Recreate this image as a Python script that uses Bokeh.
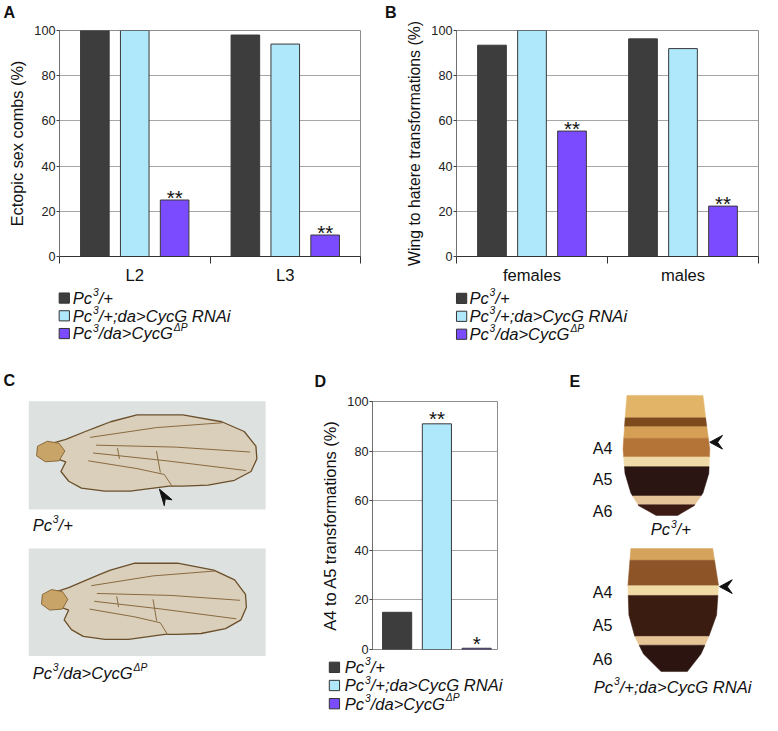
import numpy as np
from bokeh.plotting import figure
from bokeh.models import Range1d, FixedTicker
from bokeh.layouts import column, row
from bokeh.core.properties import value
from bokeh.embed import file_html
from bokeh.resources import INLINE

S = 0.976
FONT = "Liberation Sans"
STYLED_SHIFT = 0.3   # em; italic/bold text is drawn a little low, compensate

# ---------------- data ----------------
GENOTYPES = [
    [("Pc", "n"), ("3", "s"), ("/+", "n")],
    [("Pc", "n"), ("3", "s"), ("/+;da>CycG RNAi", "n")],
    [("Pc", "n"), ("3", "s"), ("/da>CycG", "n"), ("\u0394P", "s")],
]
COLORS = ["#3d3d3d", "#aee8fa", "#7b4cff"]

A_categories = ["L2", "L3"]
A_pc3 = [100, 98]
A_rnai = [100, 94]
A_dp = [25, 9.5]
A_stars = [["", ""], ["", ""], ["**", "**"]]

B_categories = ["females", "males"]
B_pc3 = [93.5, 96.3]
B_rnai = [100, 92]
B_dp = [55.5, 22.3]
B_stars = [["", ""], ["", ""], ["**", "**"]]

D_values = [15, 91, 0.5]
D_stars = ["", "**", "*"]

Y_TICKS = [0, 20, 40, 60, 80, 100]

C_labels = [[("Pc", "n"), ("3", "s"), ("/+", "n")],
            [("Pc", "n"), ("3", "s"), ("/da>CycG", "n"), ("\u0394P", "s")]]
E_labels = [[("Pc", "n"), ("3", "s"), ("/+", "n")],
            [("Pc", "n"), ("3", "s"), ("/+;da>CycG RNAi", "n")]]
SEGMENTS = ["A4", "A5", "A6"]

# approx Arial advance widths (em)
CW = {'P': .667, 'c': .5, '/': .278, '+': .584, ';': .278, 'd': .556, 'a': .556,
      '>': .584, 'C': .722, 'y': .5, 'G': .778, ' ': .278, 'R': .722, 'N': .722,
      'A': .667, 'i': .222, '3': .556, '\u0394': .668}


def sp(v):
    return int(round(v * S))


def fpx(v):
    return f"{v * S:.2f}px"


def canvas(w, h):
    p = figure(width=sp(w), height=sp(h), x_range=Range1d(0, w), y_range=Range1d(h, 0),
               min_border=0, toolbar_location=None, output_backend="svg", title=None,
               x_axis_type=None, y_axis_type=None, tools="")
    p.frame_align = False
    p.outline_line_color = None
    p.background_fill_color = "white"
    p.border_fill_color = "white"
    return p


def rich(p, x, y, parts, fs, align="left", color="#111111"):
    sup = 0.62
    rise = 0.38 * fs
    gap = 0.05 * fs
    y = y - STYLED_SHIFT * fs
    widths = []
    for s, k in parts:
        f = fs * sup if k == "s" else fs
        widths.append(sum(CW.get(ch, 0.556) for ch in s) * f + (gap if k == "s" else 0))
    total = sum(widths)
    x0 = x - total / 2 if align == "center" else x
    for (s, k), wd in zip(parts, widths):
        f = fs * sup if k == "s" else fs
        xx = x0 + (gap if k == "s" else 0)
        yy = y - rise if k == "s" else y
        p.text(x=[xx], y=[yy], text=[s], text_font=value(FONT), text_font_size=value(fpx(f)),
               text_font_style="italic", text_align="left", text_baseline="alphabetic",
               text_color=color)
        x0 += wd


def letter(p, x, y, t):
    fs = 16.5
    p.text(x=[x], y=[y - STYLED_SHIFT * fs], text=[t], text_font=value(FONT),
           text_font_size=value(fpx(fs)), text_font_style="bold", text_align="left",
           text_baseline="alphabetic", text_color="#111111")


def chart(w, h, left, right, top, bottom, ylabel, categories, series, stars,
          offsets, bar_w, xr, show_x=True, ylabel_fs=16.5, star_off=-3):
    p = figure(width=sp(w), height=sp(h), x_range=Range1d(*xr), y_range=Range1d(0, 100),
               min_border_left=sp(left), min_border_right=sp(right),
               min_border_top=sp(top), min_border_bottom=sp(bottom),
               toolbar_location=None, output_backend="svg", title=None, tools="",
               x_axis_type="linear" if show_x else None)
    p.frame_align = False
    p.background_fill_color = "white"
    p.border_fill_color = "white"
    p.outline_line_color = "#8c8c8c"
    p.outline_line_width = 1

    ya = p.yaxis[0]
    ya.ticker = FixedTicker(ticks=Y_TICKS)
    ya.axis_label = ylabel
    ya.axis_label_text_font = FONT
    ya.axis_label_text_font_size = fpx(ylabel_fs)
    ya.axis_label_text_font_style = "normal"
    ya.axis_label_text_color = "#111111"
    ya.axis_label_standoff = 5
    ya.major_label_text_font = FONT
    ya.major_label_text_font_size = fpx(13)
    ya.major_label_text_color = "#222222"
    ya.major_label_standoff = 1
    ya.major_tick_out = 3
    ya.major_tick_in = 0
    ya.minor_tick_line_color = None
    ya.axis_line_color = "#707070"
    ya.major_tick_line_color = "#404040"

    p.ygrid.ticker = FixedTicker(ticks=Y_TICKS)
    p.ygrid.grid_line_color = "#a6a6a6"
    p.ygrid.grid_line_width = 1
    if show_x:
        p.xgrid.visible = False
        n = len(categories)
        xa = p.xaxis[0]
        xa.ticker = FixedTicker(ticks=[i + 0.5 for i in range(n)],
                                minor_ticks=list(range(n + 1)))
        xa.major_label_overrides = {i + 0.5: c for i, c in enumerate(categories)}
        xa.major_label_text_font = FONT
        xa.major_label_text_font_size = fpx(17)
        xa.major_label_text_color = "#111111"
        xa.major_label_standoff = 2
        xa.major_tick_out = 0
        xa.major_tick_in = 0
        xa.minor_tick_out = 7
        xa.minor_tick_in = 0
        xa.minor_tick_line_color = "#333333"
        xa.axis_line_color = "#333333"

    n = len(categories)
    for j, vals in enumerate(series):
        xs = [i + 0.5 + offsets[j] for i in range(n)]
        p.vbar(x=xs, top=vals, width=bar_w, fill_color=COLORS[j], line_color="#3a3a3a",
               line_width=1)
        p.text(x=xs, y=vals, text=stars[j], text_font=value(FONT),
               text_font_size=value(fpx(21)), text_align="center",
               text_baseline="alphabetic", y_offset=star_off * S, text_color="#111111")
    return p


def legend(w, h, sq_x, txt_x, y_first, y_step):
    p = canvas(w, h)
    for i, (col, parts) in enumerate(zip(COLORS, GENOTYPES)):
        yc = y_first + i * y_step
        p.rect(x=[sq_x], y=[yc], width=10.5, height=10.5, fill_color=col,
               line_color="#333333", line_width=1)
        rich(p, txt_x, yc + 5.5, parts, 17)
    return p


OFFSETS = [-0.265, 0.0, 0.265]

# ---------------- top row ----------------
top_strip = canvas(778, 20)
letter(top_strip, 3, 16, "A")
letter(top_strip, 394, 16, "B")

figA = chart(390, 274, 60, 22, 10, 21, "Ectopic sex combs (%)", A_categories,
             [A_pc3, A_rnai, A_dp], A_stars, OFFSETS, 0.19, (0, 2), ylabel_fs=16.7)
figB = chart(388, 274, 77, 2, 10, 21, "Wing to hatere transformations (%)", B_categories,
             [B_pc3, B_rnai, B_dp], B_stars, OFFSETS, 0.19, (0, 2), ylabel_fs=16.2)
legA = legend(390, 66, 65.3, 74, 10.9, 18.3)
legB = legend(388, 66, 82, 90, 11.2, 18.5)

# ---------------- panel C (wing photos) ----------------
figC = canvas(318, 371)
letter(figC, 3, 34, "C")

WING = [(100, 77), (113, 72), (140, 65), (187, 65), (227, 72), (250, 82), (262, 97),
        (263, 110), (257, 123), (240, 132), (213, 137), (187, 138), (173, 138),
        (157, 140), (133, 143), (107, 143), (83, 140), (70, 133), (62, 123), (67, 113),
        (58, 110), (50, 107), (40, 107), (38, 100), (50, 95), (67, 90), (87, 82)]
VEINS = [[(92, 88), (160, 78), (228, 73)],
         [(98, 96), (180, 98), (256, 103)],
         [(95, 104), (170, 112), (252, 122)],
         [(90, 112), (140, 120), (168, 126), (176, 138)],
         [(160, 102), (164, 124)],
         [(120, 99), (122, 110)]]
HINGE = [(38, 97), (48, 92), (60, 94), (66, 102), (60, 112), (46, 113), (37, 107)]


def draw_wing(p, photo_top, photo_bot, sx, ox, dy):
    p.quad(left=[29], right=[272], top=[photo_top], bottom=[photo_bot],
           fill_color="#dde1e0", line_color=None)
    tx = lambda x: ox + (x - 38) * sx
    p.patch(x=[tx(x) for x, y in WING], y=[y + dy for x, y in WING],
            fill_color="#d9cfba", line_color="#6b4f2a", line_width=1.3)
    p.multi_line(xs=[[tx(x) for x, y in v] for v in VEINS],
                 ys=[[y + dy for x, y in v] for v in VEINS],
                 line_color="#8a6a40", line_width=1)
    p.patch(x=[tx(x) for x, y in HINGE], y=[y + dy for x, y in HINGE],
            fill_color="#c9a468", line_color="#8a6a3a", line_width=1)


draw_wing(figC, 51, 162, 1.0, 38, 0)
draw_wing(figC, 202, 312, 0.93, 43, 152)
figC.patch(x=[163, 176, 169, 168], y=[141, 152, 151, 158], fill_color="#111111",
           line_color="#111111")
rich(figC, 33, 183, C_labels[0], 17)
rich(figC, 33, 335, C_labels[1], 17)

# ---------------- panel D ----------------
stripD = canvas(262, 43)
letter(stripD, 4, 35, "D")
D_OFFSETS = [-0.318, 0.0, 0.318]
figD = chart(262, 269, 64, 71, 8, 7.5, "A4 to A5 transformations (%)", [""],
             [[v] for v in D_values], [[s] for s in D_stars], D_OFFSETS, 0.233,
             (-0.015, 0.985), show_x=False, ylabel_fs=16.8, star_off=-5)
legD = legend(262, 59, 24.5, 35, 11.0, 18.5)

# ---------------- panel E (abdomen photos) ----------------
figE = canvas(198, 371)
letter(figE, 3, 35, "E")

# silhouettes (y, x_left, x_right) and colour bands (y0, y1, colour)
SIL1 = [(45, 62, 140), (70, 60, 143), (100, 58, 147), (125, 60, 146), (145, 66, 140),
        (158, 74, 131), (168, 92, 114)]
BANDS1 = [(45, 68, "#e2b468"), (68, 77, "#7d4a1e"), (77, 89, "#d5a055"),
          (89, 108, "#b47438"), (108, 118, "#efd9a6"), (118, 148, "#2b1512"),
          (148, 157, "#e6c49a"), (157, 168, "#3b1a14")]
SIL2 = [(202, 66, 150), (240, 63, 156), (270, 64, 154), (292, 70, 146), (310, 79, 138),
        (328, 97, 124)]
BANDS2 = [(202, 214, "#d5a35c"), (214, 240, "#8d5527"), (240, 250, "#f0dba6"),
          (250, 292, "#3b1c10"), (292, 301, "#e7c597"), (301, 328, "#2c1510")]


def draw_abdomen(p, sil, bands):
    sy = [s[0] for s in sil]
    sl = [s[1] for s in sil]
    sr = [s[2] for s in sil]
    xs, ys, cs = [], [], []
    for y0, y1, c in bands:
        yy = [y0] + [s for s in sy if y0 < s < y1] + [y1]
        left = list(np.interp(yy, sy, sl))
        right = list(np.interp(yy, sy, sr))
        xs.append(left + right[::-1])
        ys.append(yy + yy[::-1])
        cs.append(c)
    p.patches(xs=xs, ys=ys, fill_color=cs, line_color=cs, line_width=0.5)


draw_abdomen(figE, SIL1, BANDS1)
draw_abdomen(figE, SIL2, BANDS2)
for ys_, (ax, ay) in zip(([99, 131, 163], [246, 280, 315]), ((147, 93), (157, 241))):
    figE.text(x=[27] * 3, y=ys_, text=SEGMENTS, text_font=value(FONT),
              text_font_size=value(fpx(16.5)), text_align="left",
              text_baseline="alphabetic", text_color="#111111")
    figE.patch(x=[ax, ax + 13, ax + 8, ax + 13], y=[ay, ay - 7, ay, ay + 7],
               fill_color="#111111", line_color="#111111")
rich(figE, 107, 188, E_labels[0], 17, align="center")
rich(figE, 28, 349, E_labels[1], 17)

layout = column(
    top_strip,
    row(column(figA, legA), column(figB, legB)),
    row(figC, column(stripD, figD, legD), figE),
)

open("out.html", "w").write(file_html(layout, INLINE))
